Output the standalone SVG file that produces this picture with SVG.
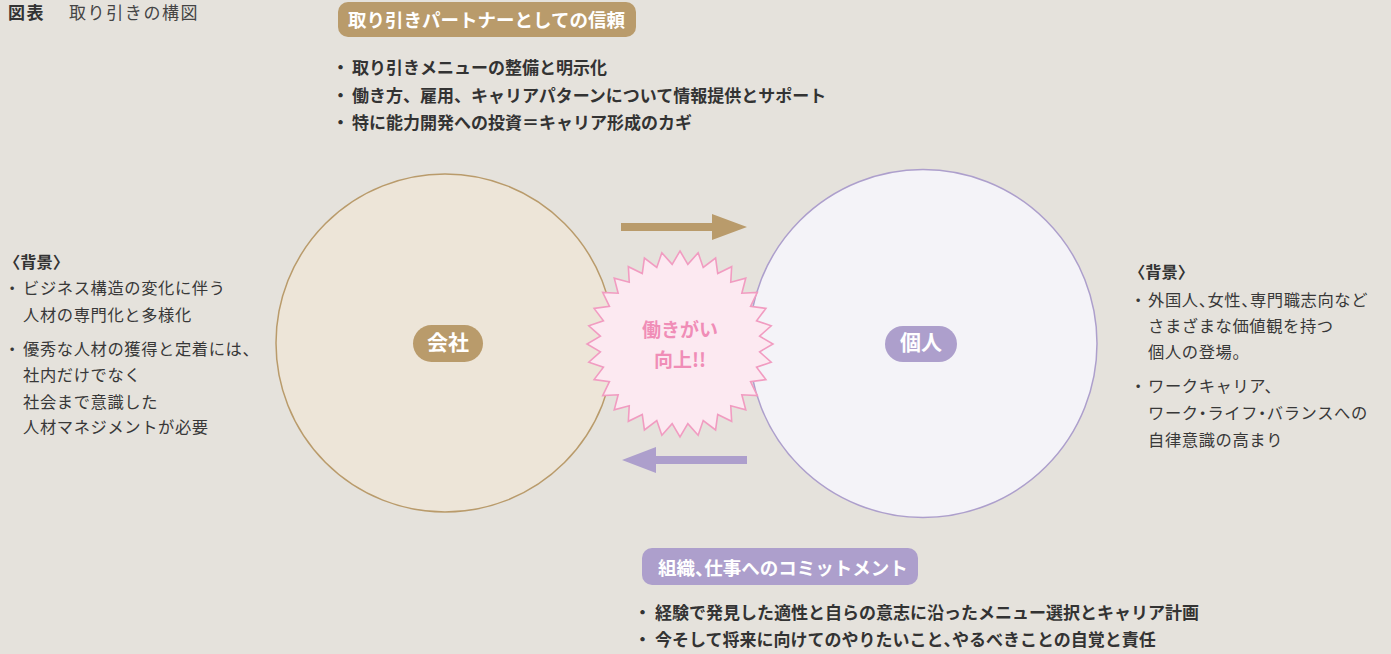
<svg xmlns="http://www.w3.org/2000/svg" width="1391" height="654" viewBox="0 0 1391 654">
<style>
text{font-family:"Noto Sans CJK JP","Noto Sans",sans-serif;}
.body{font-size:16.3px;fill:#383838;letter-spacing:0.6px;}
.bb{font-size:17px;font-weight:bold;fill:#333;}
.hd{font-size:16.3px;font-weight:bold;fill:#333;}
.pillt{font-size:18.5px;font-weight:bold;fill:#fff;}
.h{font-feature-settings:"halt";}
.gold{fill:#b99b6b;}
.purple{fill:#ad9fcc;}
</style>
<rect width="1391" height="654" fill="#e5e2dc"/>

<g id="title">
<text x="8" y="19" style="font-size:17px;font-weight:bold;fill:#333;letter-spacing:1.5px">図表</text>
<text x="69" y="19" style="font-size:17px;fill:#444;letter-spacing:1.6px">取り引きの構図</text>
</g>

<g id="company">
<circle cx="445" cy="343" r="169" fill="#ede5d8" stroke="#b99b6b" stroke-width="1.5"/>
<rect x="413" y="325" width="70" height="37" rx="18.5" class="gold"/>
<text x="448" y="350" text-anchor="middle" style="font-size:21px;font-weight:bold;fill:#fff">会社</text>
</g>

<g id="person">
<circle cx="923" cy="343.5" r="174" fill="#f4f3f8" stroke="#ad9fcc" stroke-width="1.5"/>
<rect x="885" y="326" width="72" height="36" rx="18" class="purple"/>
<text x="921" y="350" text-anchor="middle" style="font-size:21px;font-weight:bold;fill:#fff">個人</text>
</g>

<g id="connectors">
<path d="M621 223 H712 V214 L747 227 L712 240 V231 H621 Z" class="gold"/>
<path d="M747 456 H656 V447 L622 460 L656 473 V464 H747 Z" class="purple"/>
</g>

<g id="star">
<polygon transform="translate(680,344)" fill="#fce9f1" stroke="#f19cc1" stroke-width="1.6" stroke-linejoin="miter" points="0,-93 7.84,-79.61 18.14,-91.21 23.22,-76.56 35.59,-85.92 37.71,-70.55 51.67,-77.33 50.75,-61.84 65.76,-65.76 61.84,-50.75 77.33,-51.67 70.55,-37.71 85.92,-35.59 76.56,-23.22 91.21,-18.14 79.61,-7.84 93,0 79.61,7.84 91.21,18.14 76.56,23.22 85.92,35.59 70.55,37.71 77.33,51.67 61.84,50.75 65.76,65.76 50.75,61.84 51.67,77.33 37.71,70.55 35.59,85.92 23.22,76.56 18.14,91.21 7.84,79.61 0,93 -7.84,79.61 -18.14,91.21 -23.22,76.56 -35.59,85.92 -37.71,70.55 -51.67,77.33 -50.75,61.84 -65.76,65.76 -61.84,50.75 -77.33,51.67 -70.55,37.71 -85.92,35.59 -76.56,23.22 -91.21,18.14 -79.61,7.84 -93,0 -79.61,-7.84 -91.21,-18.14 -76.56,-23.22 -85.92,-35.59 -70.55,-37.71 -77.33,-51.67 -61.84,-50.75 -65.76,-65.76 -50.75,-61.84 -51.67,-77.33 -37.71,-70.55 -35.59,-85.92 -23.22,-76.56 -18.14,-91.21 -7.84,-79.61"/>
<text x="680" y="337" text-anchor="middle" style="font-size:19px;font-weight:bold;fill:#f08db7">働きがい</text>
<text x="680" y="367" text-anchor="middle" style="font-size:19px;font-weight:bold;fill:#f08db7">向上!!</text>
</g>

<g id="trust">
<rect x="338" y="2" width="298" height="35" rx="10" class="gold"/>
<text x="348" y="27" class="pillt">取り引きパートナーとしての信頼</text>
<text x="332" y="74" class="bb">・</text>
<text x="352" y="74" class="bb">取り引きメニューの整備と明示化</text>
<text x="332" y="102" class="bb">・</text>
<text x="352" y="102" class="bb">働き方、雇用、キャリアパターンについて情報提供とサポート</text>
<text x="332" y="129" class="bb">・</text>
<text x="352" y="129" class="bb">特に能力開発への投資＝キャリア形成のカギ</text>
</g>

<g id="commitment">
<rect x="642" y="548" width="276" height="37" rx="10" class="purple"/>
<text x="658" y="575" class="pillt">組織<tspan class="h">、</tspan>仕事へのコミットメント</text>
<text x="634" y="619" class="bb">・</text>
<text x="655" y="619" class="bb">経験で発見した適性と自らの意志に沿ったメニュー選択とキャリア計画</text>
<text x="634" y="646" class="bb">・</text>
<text x="655" y="646" class="bb">今そして将来に向けてのやりたいこと<tspan class="h">、</tspan>やるべきことの自覚と責任</text>
</g>

<g id="company-background">
<text x="4" y="268" class="hd">〈背景〉</text>
<text x="4" y="294" class="body">・</text>
<text x="23" y="294" class="body">ビジネス構造の変化に伴う</text>
<text x="23" y="321" class="body">人材の専門化と多様化</text>
<text x="4" y="355" class="body">・</text>
<text x="23" y="355" class="body">優秀な人材の獲得と定着には、</text>
<text x="23" y="381" class="body">社内だけでなく</text>
<text x="23" y="408" class="body">社会まで意識した</text>
<text x="23" y="433" class="body">人材マネジメントが必要</text>
</g>

<g id="person-background">
<text x="1129" y="278" class="hd">〈背景〉</text>
<text x="1130" y="306" class="body">・</text>
<text x="1148" y="306" class="body">外国人<tspan class="h">、</tspan>女性<tspan class="h">、</tspan>専門職志向など</text>
<text x="1148" y="332" class="body">さまざまな価値観を持つ</text>
<text x="1148" y="358" class="body">個人の登場。</text>
<text x="1130" y="392" class="body">・</text>
<text x="1148" y="392" class="body">ワークキャリア、</text>
<text x="1148" y="419" class="body">ワーク<tspan class="h">・</tspan>ライフ<tspan class="h">・</tspan>バランスへの</text>
<text x="1148" y="446" class="body">自律意識の高まり</text>
</g>
</svg>
